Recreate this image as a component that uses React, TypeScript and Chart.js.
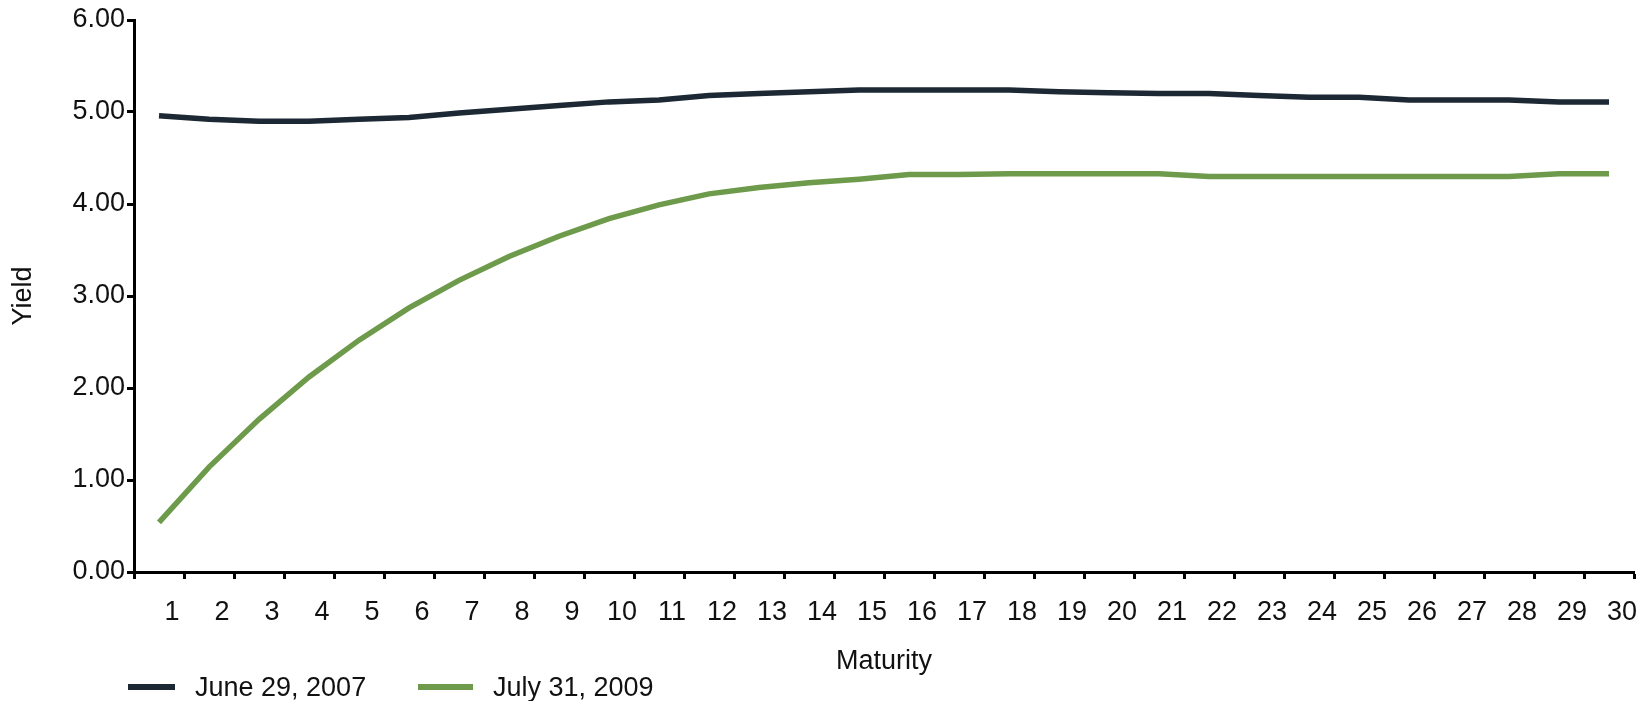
import React, { useEffect, useRef } from "react";
import { Chart, registerables } from "chart.js";

Chart.register(...registerables);

const maturities: string[] = [
  "1", "2", "3", "4", "5", "6", "7", "8", "9", "10",
  "11", "12", "13", "14", "15", "16", "17", "18", "19", "20",
  "21", "22", "23", "24", "25", "26", "27", "28", "29", "30",
];

const june2007: number[] = [
  4.96, 4.92, 4.9, 4.9, 4.92, 4.94, 4.99, 5.03, 5.07, 5.11,
  5.13, 5.18, 5.2, 5.22, 5.24, 5.24, 5.24, 5.24, 5.22, 5.21,
  5.2, 5.2, 5.18, 5.16, 5.16, 5.13, 5.13, 5.13, 5.11, 5.11,
];

const july2009: number[] = [
  0.54, 1.14, 1.66, 2.12, 2.52, 2.87, 3.17, 3.43, 3.65, 3.84,
  3.99, 4.11, 4.18, 4.23, 4.27, 4.32, 4.32, 4.33, 4.33, 4.33,
  4.33, 4.3, 4.3, 4.3, 4.3, 4.3, 4.3, 4.3, 4.33, 4.33,
];

const seriesLabels: string[] = ["June 29, 2007", "July 31, 2009"];
const seriesColors: string[] = ["#1c2833", "#6e9b4b"];

const FONT = "'Liberation Sans', Arial, Helvetica, sans-serif";
const TEXT = "#111111";
const FONT_SIZE = 27;

export default function App() {
  const canvasRef = useRef<HTMLCanvasElement | null>(null);

  useEffect(() => {
    if (!canvasRef.current) return;
    const chart = new Chart(canvasRef.current, {
      type: "line",
      data: {
        labels: maturities,
        datasets: [
          {
            label: seriesLabels[0],
            data: june2007,
            borderColor: seriesColors[0],
            backgroundColor: seriesColors[0],
            borderWidth: 5.5,
            pointRadius: 0,
            tension: 0,
            fill: false,
          },
          {
            label: seriesLabels[1],
            data: july2009,
            borderColor: seriesColors[1],
            backgroundColor: seriesColors[1],
            borderWidth: 5.5,
            pointRadius: 0,
            tension: 0,
            fill: false,
          },
        ],
      },
      options: {
        animation: false,
        responsive: true,
        maintainAspectRatio: false,
        layout: { padding: { top: 20, right: 12, bottom: 23, left: 0 } },
        plugins: {
          legend: { display: false },
          tooltip: { enabled: false },
        },
        scales: {
          x: {
            type: "category",
            offset: true,
            afterFit: (scale: any) => {
              scale.height = 106;
            },
            grid: {
              display: true,
              offset: true,
              drawOnChartArea: false,
              drawTicks: true,
              tickLength: 7,
              tickWidth: 3,
              tickColor: "#000000",
            },
            border: { display: true, color: "#000000", width: 3 },
            ticks: {
              color: TEXT,
              font: { family: FONT, size: FONT_SIZE },
              padding: 17,
              labelOffset: 13,
              maxRotation: 0,
              autoSkip: false,
            },
            title: {
              display: true,
              text: "Maturity",
              color: TEXT,
              font: { family: FONT, size: FONT_SIZE },
              padding: { top: 0, bottom: 0 },
            },
          },
          y: {
            min: 0,
            max: 6,
            afterFit: (scale: any) => {
              scale.width = 134;
            },
            grid: {
              display: true,
              drawOnChartArea: false,
              drawTicks: true,
              tickLength: 7,
              tickWidth: 3,
              tickColor: "#000000",
            },
            border: { display: true, color: "#000000", width: 3 },
            ticks: {
              stepSize: 1,
              color: TEXT,
              font: { family: FONT, size: FONT_SIZE },
              padding: 2,
              callback: (v: any) => Number(v).toFixed(2),
            },
            title: {
              display: true,
              text: "Yield",
              color: TEXT,
              font: { family: FONT, size: FONT_SIZE },
              padding: { top: 7, bottom: 0 },
            },
          },
        },
      },
    });
    return () => chart.destroy();
  }, []);

  const legendLefts = [128, 418];
  const swatchWidths = [47, 55];

  return (
    <div style={{ position: "fixed", left: 0, top: 0, width: 1646, height: 701, background: "#ffffff" }}>
      <div style={{ position: "absolute", left: 0, top: 0, width: 1646, height: 701 }}>
        <canvas ref={canvasRef} />
      </div>
      {seriesLabels.map((label, i) => (
        <div
          key={label}
          style={{
            position: "absolute",
            left: legendLefts[i],
            top: 671,
            height: 32,
            display: "flex",
            alignItems: "center",
            fontFamily: FONT,
            fontSize: FONT_SIZE,
            color: TEXT,
            whiteSpace: "nowrap",
          }}
        >
          <span style={{ display: "inline-block", width: swatchWidths[i], height: 5.5, background: seriesColors[i], marginRight: 20 }} />
          <span>{label}</span>
        </div>
      ))}
    </div>
  );
}
